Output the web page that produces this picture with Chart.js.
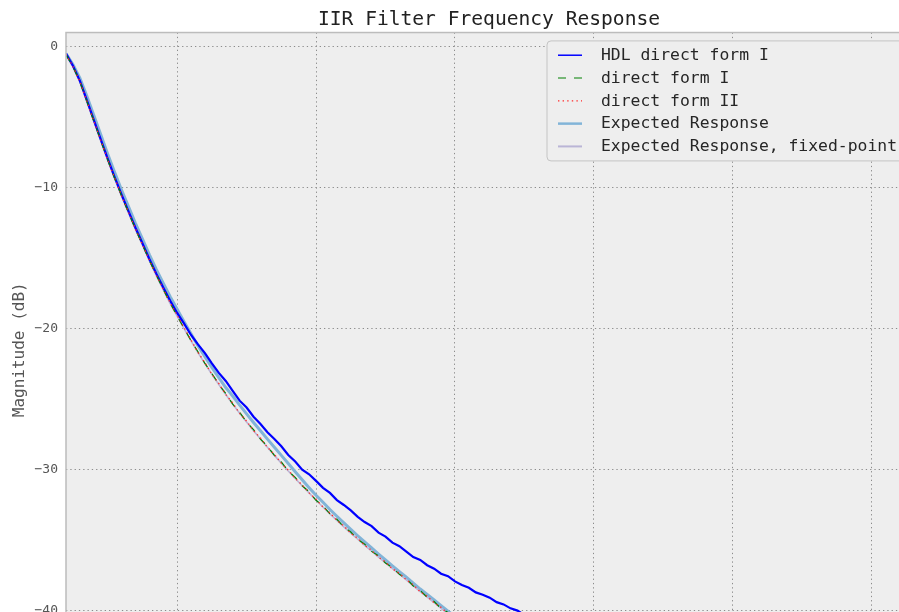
<!DOCTYPE html>
<html><head><meta charset="utf-8">
<script src="https://cdn.jsdelivr.net/npm/chart.js@4.4.1/dist/chart.umd.min.js"></script>
<style>
html,body{margin:0;padding:0;background:#fff;overflow:hidden;}
#wrap{position:relative;width:899px;height:612px;overflow:hidden;}
#c{position:absolute;left:0;top:0;}
</style></head><body>
<div id="wrap"><canvas id="c" width="930" height="700" style="width:930px;height:700px"></canvas></div>
<script>
const freq = [0.020,0.025,0.030,0.035,0.040,0.045,0.050,0.055,0.060,0.065,0.070,0.075,0.080,0.085,0.090,0.095,0.100,0.105,0.110,0.115,0.120,0.125,0.130,0.135,0.140,0.145,0.150,0.155,0.160,0.165,0.170,0.175,0.180,0.185,0.190,0.195,0.200,0.205,0.210,0.215,0.220,0.225,0.230,0.235,0.240,0.245,0.250,0.255,0.260,0.265,0.270,0.275,0.280,0.285,0.290,0.295,0.300,0.305,0.310,0.315,0.320,0.325,0.330,0.335,0.340,0.345,0.350,0.355,0.360,0.365,0.370];

const hdlDirectFormI = [-0.5,-1.36,-2.43,-3.8,-5.2,-6.58,-7.95,-9.26,-10.5,-11.68,-12.85,-13.95,-15.06,-16.1,-17.08,-18.03,-18.89,-19.65,-20.45,-21.12,-21.74,-22.46,-23.14,-23.71,-24.41,-25.11,-25.6,-26.25,-26.76,-27.35,-27.83,-28.35,-28.96,-29.43,-30.0,-30.33,-30.8,-31.29,-31.65,-32.16,-32.51,-32.89,-33.35,-33.72,-34.01,-34.47,-34.75,-35.18,-35.43,-35.81,-36.2,-36.41,-36.78,-37.03,-37.38,-37.56,-37.93,-38.19,-38.38,-38.71,-38.87,-39.08,-39.4,-39.56,-39.84,-40.0,-40.33,-40.5,-40.7,-40.99,-41.15];

const directFormI = [-0.56,-1.42,-2.49,-3.87,-5.27,-6.65,-8.02,-9.33,-10.58,-11.76,-12.94,-14.04,-15.16,-16.21,-17.21,-18.2,-19.1,-19.98,-20.85,-21.64,-22.47,-23.18,-23.95,-24.6,-25.35,-25.94,-26.63,-27.16,-27.84,-28.34,-28.99,-29.46,-30.1,-30.55,-31.15,-31.57,-32.18,-32.57,-33.14,-33.52,-34.07,-34.43,-34.95,-35.29,-35.8,-36.12,-36.63,-36.95,-37.43,-37.73,-38.25,-38.57,-39.06,-39.36,-39.85,-40.14,-40.62,-40.9,-41.36,-41.63,-42.1,-42.38,-42.87,-43.13,-43.58,-43.83,-44.27,-44.52,-44.97,-45.22,-45.65];

const directFormII = [-0.55,-1.4,-2.47,-3.85,-5.25,-6.63,-8.0,-9.31,-10.56,-11.74,-12.92,-14.02,-15.14,-16.19,-17.19,-18.16,-19.05,-19.93,-20.8,-21.69,-22.41,-23.24,-23.89,-24.67,-25.28,-26.01,-26.56,-27.24,-27.76,-28.42,-28.92,-29.54,-30.03,-30.63,-31.08,-31.65,-32.1,-32.66,-33.07,-33.6,-33.99,-34.52,-34.87,-35.37,-35.72,-36.21,-36.55,-37.04,-37.35,-37.82,-38.17,-38.67,-38.98,-39.45,-39.77,-40.24,-40.54,-40.99,-41.28,-41.73,-42.02,-42.48,-42.79,-43.23,-43.5,-43.93,-44.19,-44.62,-44.89,-45.32,-45.57];

const expectedResponse = [-0.5,-1.26,-2.23,-3.51,-4.86,-6.24,-7.61,-8.92,-10.17,-11.35,-12.53,-13.63,-14.75,-15.8,-16.77,-17.73,-18.62,-19.51,-20.37,-21.21,-21.99,-22.75,-23.47,-24.18,-24.78,-25.43,-26.05,-26.66,-27.25,-27.84,-28.41,-28.99,-29.57,-30.15,-30.72,-31.28,-31.82,-32.32,-32.83,-33.31,-33.78,-34.24,-34.69,-35.13,-35.56,-35.99,-36.41,-36.83,-37.23,-37.63,-38.05,-38.47,-38.86,-39.25,-39.65,-40.04,-40.42,-40.79,-41.16,-41.53,-41.9,-42.28,-42.67,-43.03,-43.38,-43.73,-44.07,-44.42,-44.77,-45.12,-45.45];

const expectedFixedPoint = [-0.58,-1.44,-2.52,-3.9,-5.3,-6.68,-8.05,-9.36,-10.61,-11.79,-12.97,-14.07,-15.19,-16.24,-17.24,-18.22,-19.11,-20.0,-20.86,-21.7,-22.48,-23.24,-23.96,-24.67,-25.35,-26.01,-26.63,-27.24,-27.83,-28.42,-28.99,-29.54,-30.1,-30.63,-31.15,-31.65,-32.17,-32.65,-33.14,-33.6,-34.06,-34.51,-34.94,-35.37,-35.79,-36.21,-36.62,-37.03,-37.42,-37.82,-38.24,-38.66,-39.05,-39.44,-39.84,-40.23,-40.61,-40.98,-41.35,-41.72,-42.09,-42.47,-42.86,-43.22,-43.57,-43.92,-44.26,-44.61,-44.96,-45.31,-45.64];

const xTicks = [0.1,0.2,0.3,0.4,0.5,0.6];
const yTicks = [0,-10,-20,-30,-40];

const MONO = "'DejaVu Sans Mono', monospace";
const pts = arr => freq.map((f,i)=>({x:f,y:arr[i]}));

const series = [
  {label:'HDL direct form I', data:hdlDirectFormI, color:'#0000ff', width:2.2, dash:[], order:2, legendWidth:1.5},
  {label:'direct form I', data:directFormI, color:'#008000', width:1.2, dash:[8,8], order:1, legendWidth:1.2},
  {label:'direct form II', data:directFormII, color:'#ff2a2a', width:1.3, dash:[1.4,3.2], order:0, legendWidth:1.2},
  {label:'Expected Response', data:expectedResponse, color:'#82b4d8', width:3, dash:[], order:4, legendWidth:2.5},
  {label:'Expected Response, fixed-point', data:expectedFixedPoint, color:'#bab5d6', width:1.6, dash:[], order:3, legendWidth:2}
];

const bgPlugin = {
  id:'bg',
  beforeDraw(chart){
    const {ctx, chartArea:a} = chart;
    ctx.save();
    ctx.fillStyle = '#eeeeee';
    ctx.fillRect(a.left, a.top, a.right-a.left, a.bottom-a.top);
    ctx.restore();
  },
  afterDatasetsDraw(chart){
    const {ctx, chartArea:a} = chart;
    ctx.save();
    ctx.strokeStyle = '#bcbcbc';
    ctx.lineWidth = 1.5;
    ctx.strokeRect(a.left, a.top, a.right-a.left, a.bottom-a.top);
    ctx.restore();
  }
};

function roundRect(ctx,x,y,w,h,r){
  ctx.beginPath();
  ctx.moveTo(x+r,y);
  ctx.lineTo(x+w-r,y); ctx.quadraticCurveTo(x+w,y,x+w,y+r);
  ctx.lineTo(x+w,y+h-r); ctx.quadraticCurveTo(x+w,y+h,x+w-r,y+h);
  ctx.lineTo(x+r,y+h); ctx.quadraticCurveTo(x,y+h,x,y+h-r);
  ctx.lineTo(x,y+r); ctx.quadraticCurveTo(x,y,x+r,y);
  ctx.closePath();
}

const legendPlugin = {
  id:'mplLegend',
  afterDraw(chart){
    const {ctx, chartArea:a} = chart;
    const right = a.right - 7, top = a.top + 8.4;
    const w = 358, h = 120, left = right - w;
    ctx.save();
    roundRect(ctx,left,top,w,h,4);
    ctx.fillStyle = '#eeeeee';
    ctx.fill();
    ctx.strokeStyle = '#c4c4c4';
    ctx.lineWidth = 1;
    ctx.stroke();
    ctx.font = "16.4px " + MONO;
    ctx.textBaseline = 'middle';
    ctx.textAlign = 'left';
    series.forEach((s,i)=>{
      const y = top + 14.3 + i*22.8;
      ctx.beginPath();
      ctx.strokeStyle = s.color;
      ctx.lineWidth = s.legendWidth;
      ctx.setLineDash(s.dash);
      ctx.moveTo(left+11, y);
      ctx.lineTo(left+35, y);
      ctx.stroke();
      ctx.setLineDash([]);
      ctx.fillStyle = '#262626';
      ctx.fillText(s.label, left+54, y+0.5);
    });
    ctx.restore();
  }
};

new Chart(document.getElementById('c'), {
  type:'line',
  data:{
    datasets: series.map(s=>({
      label:s.label,
      data:pts(s.data),
      borderColor:s.color,
      backgroundColor:s.color,
      borderWidth:s.width,
      borderDash:s.dash,
      pointRadius:0,
      tension:0,
      fill:false,
      order:s.order
    }))
  },
  options:{
    responsive:false,
    animation:false,
    events:[],
    layout:{padding:{left:0,right:18,top:0,bottom:0}},
    plugins:{
      legend:{display:false},
      tooltip:{enabled:false},
      title:{
        display:true,
        text:'IIR Filter Frequency Response',
        fullSize:false,
        color:'#222222',
        font:{family:MONO,size:19.6,weight:'normal',lineHeight:1.2},
        padding:{top:8,bottom:1}
      }
    },
    scales:{
      x:{
        type:'linear',
        min:0.02, max:0.629,
        afterBuildTicks(scale){ scale.ticks = xTicks.map(v=>({value:v})); },
        afterFit(scale){ scale.height = 33; },
        ticks:{display:false},
        grid:{color:'#8c8c8c', lineWidth:1, drawTicks:false},
        border:{display:false, dash:[1.3,3]}
      },
      y:{
        type:'linear',
        min:-44, max:1,
        afterBuildTicks(scale){ scale.ticks = yTicks.map(v=>({value:v})); },
        afterFit(scale){ scale.width = 66; },
        ticks:{
          color:'#555555',
          padding:8,
          font:{family:MONO,size:13},
          callback:v=>String(v).replace('-', '\u2212')
        },
        grid:{color:'#8c8c8c', lineWidth:1, drawTicks:false},
        border:{display:false, dash:[1.3,3]},
        title:{
          display:true,
          text:'Magnitude (dB)',
          color:'#555555',
          font:{family:MONO,size:16,lineHeight:1.2},
          padding:{top:10,bottom:0}
        }
      }
    }
  },
  plugins:[bgPlugin, legendPlugin]
});
</script>
</body></html>
